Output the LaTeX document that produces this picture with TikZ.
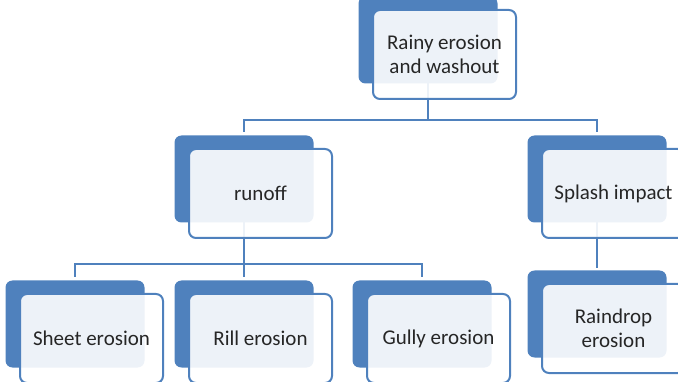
\documentclass[tikz,border=0pt]{standalone}
\usepackage{fontspec}
\setmainfont{Carlito}
\usetikzlibrary{backgrounds}
\definecolor{eroblue}{HTML}{4F81BD}
\begin{document}
\begin{tikzpicture}[x = 1pt, y = -1pt,
        backbox/.style = {fill = eroblue, rounded corners = 7pt, minimum width = 139pt, minimum height = 87pt, inner sep = 0pt},
        frontbox/.style = {draw = eroblue, line width = 2pt, fill = white, fill opacity = 0.9, text opacity = 1,
            rounded corners = 7pt, minimum width = 143pt, minimum height = 89pt, inner sep = 0pt,
            align = center, text = black!85, font = \fontsize{21}{24}\selectfont},
        link/.style = {draw = eroblue, line width = 2pt}]
        \useasboundingbox (0,0) rectangle (678,382);
        \clip (0,0) rectangle (678,382);
        % back boxes and front boxes with text
        \foreach \nm/\x/\y/\txt in {top/428/40/{Rainy erosion\\and washout},
                                   run/244/179/{runoff},
                                   spl/597/179/{Splash impact},
                                   rain/597/314/{Raindrop\\erosion},
                                   sheet/75/324/{Sheet erosion},
                                   rill/244/324/{Rill erosion},
                                   gully/422/324/{Gully erosion}} {
            \node[backbox] (\nm b) at (\x,\y) {};
            \node[frontbox] (\nm f) at (\x+16.5,\y+14.5) {\txt};
        }
        \coordinate (bus1) at (0,120);
        \coordinate (bus2) at (0,264);
        \begin{pgfonlayer}{background}
            \foreach \ch in {runb, splb}
                \draw[link, shorten > = 3pt] (topb.center) -- (topb.center |- bus1) -| (\ch.north);
            \foreach \ch in {sheetb, rillb, gullyb}
                \draw[link, shorten > = 3pt] (runb.center) -- (runb.center |- bus2) -| (\ch.north);
            \draw[link, shorten > = 2pt] (splb.center) -- (rainb.north);
        \end{pgfonlayer}
    \end{tikzpicture}
\end{document}
